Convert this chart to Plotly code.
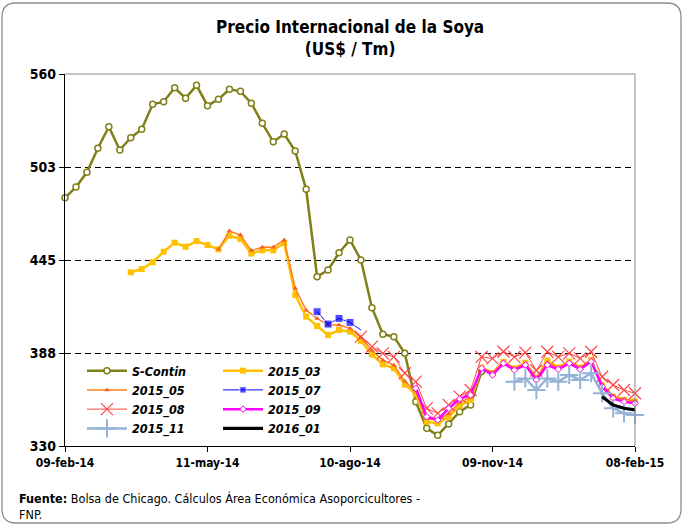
import pandas as pd
import plotly.graph_objects as go

# ---------------- data ----------------
s_contin_start = "2014-02-09"
s_contin = [483.5, 490.1, 499.2, 514.1, 527.4, 513.0, 520.6, 525.8, 541.3, 542.9,
            551.5, 545.0, 553.0, 540.4, 544.4, 550.5, 549.3, 541.9, 529.5, 518.1,
            522.9, 512.4, 488.7, 434.7, 438.8, 449.5, 457.4, 445.0, 415.5, 399.1,
            397.6, 387.3, 357.4, 340.9, 336.6, 343.6, 351.2, 355.4, 376.0]

f2015_03_start = "2014-03-23"
f2015_03 = [437.4, 439.4, 443.6, 450.1, 455.7, 453.2, 456.7, 454.3, 451.6, 460.0,
            458.0, 449.0, 451.0, 451.0, 455.5, 423.4, 410.0, 404.2, 398.6, 401.7,
            400.7, 395.0, 386.5, 380.5, 378.0, 368.0, 362.0, 345.0, 344.0, 348.0,
            355.0, 358.4, 378.5, 375.0, 382.0, 378.0, 381.5, 372.0, 382.8, 378.5,
            382.2, 378.5, 383.2, 367.5, 360.5, 358.5, 357.5]

f2015_05_start = "2014-05-18"
f2015_05 = [451.6, 462.9, 460.5, 450.8, 452.9, 452.9, 457.4, 427.5, 414.0, 408.9,
            404.8, 404.8, 402.8, 397.0, 389.0, 383.0, 380.0, 370.0, 364.0, 347.0,
            346.0, 350.0, 357.0, 360.0, 378.5, 375.5, 382.0, 378.0, 381.0, 372.0,
            381.5, 378.5, 382.0, 378.5, 383.0, 368.0, 361.0, 359.0, 358.0]

f2015_07_start = "2014-07-20"
f2015_07 = [413.0, 405.4, 408.9, 406.4, 401.7]

f2015_08_start = "2014-08-17"
f2015_08 = [397.6, 391.4, 387.3, 385.1, 375.0, 369.8, 353.3, 350.2, 355.4, 360.5,
            364.6, 385.1, 384.2, 388.3, 385.1, 387.7, 376.7, 388.3, 385.1, 387.3,
            384.2, 388.3, 372.8, 367.7, 364.6, 362.6]

f2015_09_start = "2014-09-21"
f2015_09 = [365.7, 348.1, 346.1, 353.3, 359.1, 361.5, 378.0, 373.9, 381.1, 377.0,
            380.1, 370.8, 380.1, 377.4, 381.1, 377.4, 382.2, 366.7, 359.5, 357.4, 356.4]

f2015_11_start = "2014-11-23"
f2015_11 = [369.8, 371.8, 364.6, 371.8, 369.8, 373.9, 370.8, 375.0, 362.6, 353.3,
            350.2, 349.2]

f2016_01_start = "2015-01-18"
f2016_01 = [360.5, 355.4, 353.3, 352.3]

y_tick_values = [330, 387.5, 445, 502.5, 560]
y_tick_labels = ["330", "388", "445", "503", "560"]
x_tick_dates = ["2014-02-09", "2014-05-11", "2014-08-10", "2014-11-09", "2015-02-08"]
x_tick_labels = ["09-feb-14", "11-may-14", "10-ago-14", "09-nov-14", "08-feb-15"]
x_range = ["2014-02-09", "2015-02-08"]
y_range = [330, 560]

# ---------------- figure ----------------
FONT = "DejaVu Sans Condensed, Liberation Sans Narrow, Arial Narrow, sans-serif"
W, H = 684, 526
ML, MR, MT, MB = 65, 49, 74, 80
PW, PH = W - ML - MR, H - MT - MB


def weekly(start, vals):
    return pd.date_range(start, periods=len(vals), freq="7D")


fig = go.Figure()

series = [
    dict(name="S-Contin", start=s_contin_start, vals=s_contin, legend="legend",
         line=dict(color="#808019", width=2.5),
         marker=dict(symbol="circle", size=6, color="white",
                     line=dict(color="#808019", width=1.5))),
    dict(name="2015_03", start=f2015_03_start, vals=f2015_03, legend="legend2",
         line=dict(color="#FFC000", width=2.5),
         marker=dict(symbol="square", size=6, color="#FFC000")),
    dict(name="2015_05", start=f2015_05_start, vals=f2015_05, legend="legend",
         line=dict(color="#FF7F1A", width=1.5),
         marker=dict(symbol="triangle-up", size=5, color="#F5602A")),
    dict(name="2015_07", start=f2015_07_start, vals=f2015_07, legend="legend2",
         line=dict(color="#0000FF", width=1),
         marker=dict(symbol="square", size=[8, 8, 8, 8, 0], color="#0000FF")),
    dict(name="2015_08", start=f2015_08_start, vals=f2015_08, legend="legend",
         line=dict(color="#FF4444", width=1),
         marker=dict(symbol="x-thin", size=12, color="#FF4444",
                     line=dict(color="#FF4444", width=1.2))),
    dict(name="2015_09", start=f2015_09_start, vals=f2015_09, legend="legend2",
         line=dict(color="#FF00FF", width=2.5),
         marker=dict(symbol="diamond", size=5, color="white",
                     line=dict(color="#FF00FF", width=1))),
    dict(name="2015_11", start=f2015_11_start, vals=f2015_11, legend="legend",
         line=dict(color="#95B3D7", width=2.5),
         marker=dict(symbol="cross-thin", size=13, color="#95B3D7",
                     line=dict(color="#95B3D7", width=2))),
    dict(name="2016_01", start=f2016_01_start, vals=f2016_01, legend="legend2",
         line=dict(color="#000000", width=3.2), marker=None),
]

for s in series:
    kw = dict(x=weekly(s["start"], s["vals"]), y=s["vals"], name=s["name"],
              legend=s["legend"], line=s["line"], cliponaxis=False)
    if s["marker"] is None:
        kw["mode"] = "lines"
    else:
        kw["mode"] = "lines+markers"
        kw["marker"] = s["marker"]
    fig.add_trace(go.Scatter(**kw))


def px_to_paper(px, py):
    return (px - ML) / PW, (H - MB - py) / PH


# rounded outer frame
def rounded_frame(x0, y0, x1, y1, r):
    def P(px, py):
        a, b = px_to_paper(px, py)
        return f"{a:.5f},{b:.5f}"
    path = (f"M{P(x0 + r, y0)} L{P(x1 - r, y0)} Q{P(x1, y0)} {P(x1, y0 + r)} "
            f"L{P(x1, y1 - r)} Q{P(x1, y1)} {P(x1 - r, y1)} "
            f"L{P(x0 + r, y1)} Q{P(x0, y1)} {P(x0, y1 - r)} "
            f"L{P(x0, y0 + r)} Q{P(x0, y0)} {P(x0 + r, y0)} Z")
    return path


fig.add_shape(type="path", xref="paper", yref="paper",
              path=rounded_frame(2, 3, 681, 523, 14),
              line=dict(color="#8C8C8C", width=1.3), layer="below")
# plot-area border (top and right)
fig.add_shape(type="path", xref="paper", yref="paper",
              path="M0,1 L1,1 L1,0", line=dict(color="#8C8C8C", width=1),
              layer="above")

fig.add_annotation(text="<b>Precio Internacional de la Soya</b><br><b>(US$ / Tm)</b>",
                   xref="paper", yref="paper", x=0.5,
                   y=px_to_paper(0, 38)[1], xanchor="center", yanchor="middle",
                   showarrow=False, font=dict(family=FONT, size=17, color="black"))

fig.add_annotation(text="<b>Fuente:</b> Bolsa de Chicago. Cálculos Área Económica Asoporcicultores -<br>FNP.",
                   xref="paper", yref="paper", x=px_to_paper(17, 0)[0],
                   y=px_to_paper(0, 489)[1], xanchor="left", yanchor="top",
                   align="left", showarrow=False,
                   font=dict(family=FONT, size=12.5, color="black"))

legend_common = dict(bgcolor="rgba(0,0,0,0)", borderwidth=0, orientation="v",
                     xanchor="left", yanchor="top", itemwidth=40,
                     tracegroupgap=0,
                     font=dict(family=FONT, size=12.5, color="black",
                               weight="bold", style="italic"))

fig.update_layout(
    width=W, height=H,
    margin=dict(l=ML, r=MR, t=MT, b=MB, autoexpand=False),
    paper_bgcolor="white", plot_bgcolor="white",
    showlegend=True,
    legend=dict(x=px_to_paper(82, 0)[0], y=px_to_paper(0, 356)[1], **legend_common),
    legend2=dict(x=px_to_paper(218, 0)[0], y=px_to_paper(0, 356)[1], **legend_common),
    xaxis=dict(type="date", range=x_range, tickvals=x_tick_dates, ticktext=x_tick_labels,
               showgrid=False, zeroline=False, showline=True, linecolor="black",
               linewidth=1.3, ticks="outside", ticklen=5, tickcolor="black",
               tickfont=dict(family=FONT, size=12, color="black", weight="bold")),
    yaxis=dict(range=y_range, tickvals=y_tick_values, ticktext=y_tick_labels,
               showgrid=True, gridcolor="black", gridwidth=1, griddash="6px,4px",
               zeroline=False, showline=True, linecolor="black", linewidth=1.3,
               ticks="outside", ticklen=5, tickcolor="black",
               tickfont=dict(family=FONT, size=14, color="black", weight="bold")),
)

fig.write_html("out.html", config={"displayModeBar": False},
               post_script="document.body.style.margin='0px';document.body.style.overflow='hidden';")
